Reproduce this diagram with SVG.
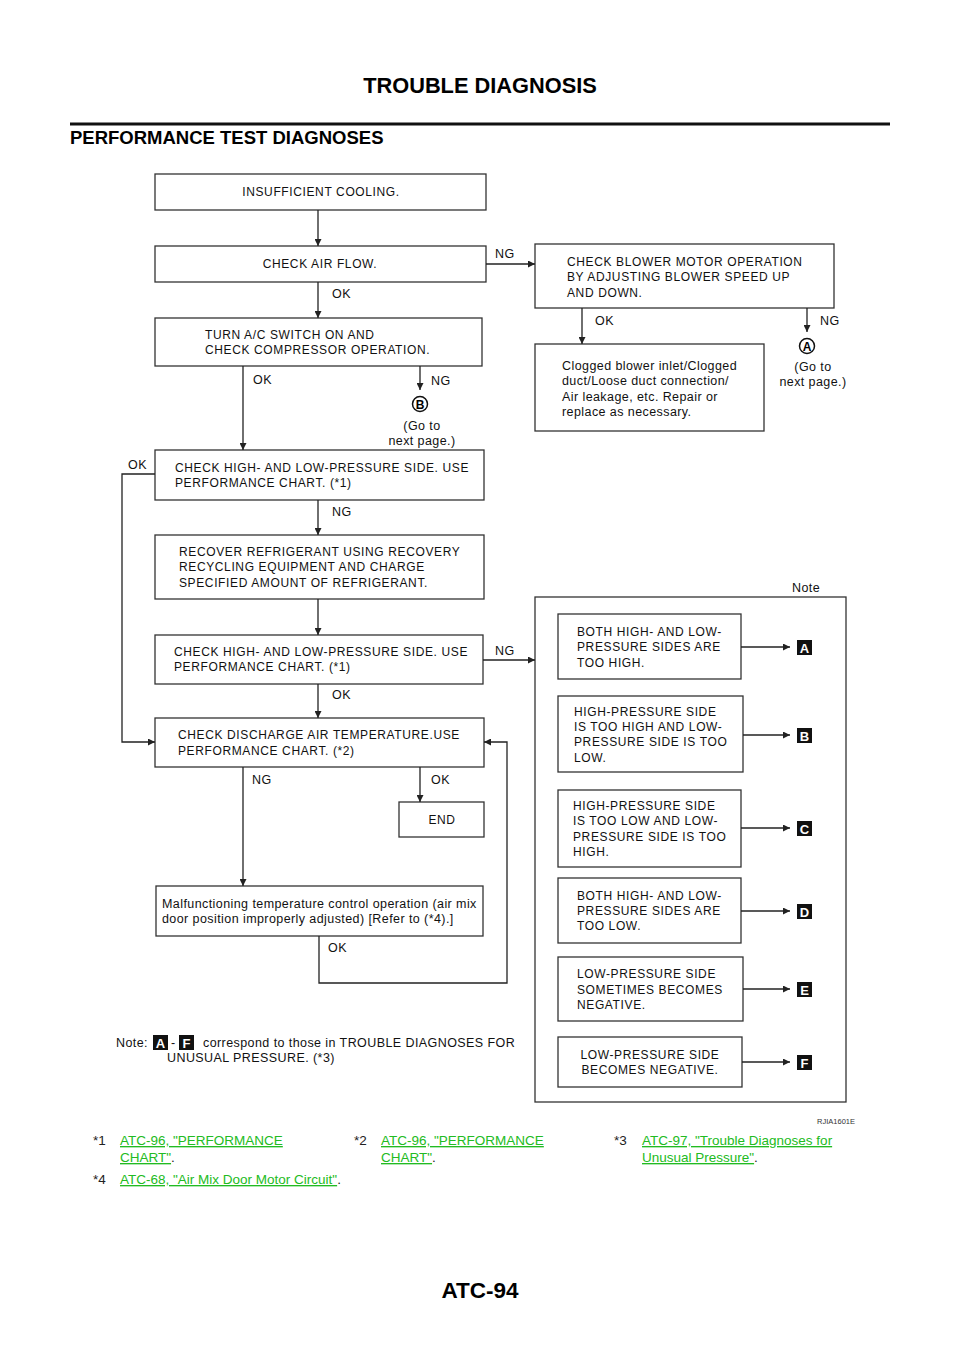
<svg xmlns="http://www.w3.org/2000/svg" width="960" height="1358" viewBox="0 0 960 1358">
<style>
.bx{fill:#fff;stroke:#333;stroke-width:1.3}
.t{font-family:"Liberation Sans",Arial,sans-serif;font-size:12px;fill:#111;letter-spacing:0.62px}
.l{font-family:"Liberation Sans",Arial,sans-serif;font-size:12.5px;fill:#111;letter-spacing:0.42px}
.c{stroke:#222;stroke-width:1.3;fill:none}
.bd{fill:#111}
.bt{font-family:"Liberation Sans",Arial,sans-serif;font-size:13px;font-weight:bold;fill:#fff;text-anchor:middle}
.fn{font-family:"Liberation Sans",Arial,sans-serif;font-size:13.5px;fill:#222;letter-spacing:0px}
.lk{font-family:"Liberation Sans",Arial,sans-serif;font-size:13.5px;fill:#22bb22;text-decoration:underline;letter-spacing:0px}
</style>
<defs>
<marker id="ah" viewBox="0 0 10 10" refX="10" refY="5" markerWidth="7" markerHeight="7" markerUnits="userSpaceOnUse" orient="auto"><path d="M0,0 L10,5 L0,10 z" fill="#222"/></marker>
</defs>
<text x="480" y="93" text-anchor="middle" style="font-family:'Liberation Sans',Arial,sans-serif;font-size:21.8px;font-weight:bold">TROUBLE DIAGNOSIS</text>
<rect x="70" y="122.5" width="820" height="3" fill="#111"/>
<text x="70" y="144" style="font-family:'Liberation Sans',Arial,sans-serif;font-size:18.5px;font-weight:bold">PERFORMANCE TEST DIAGNOSES</text>

<g id="goA">
<circle cx="807" cy="346" r="7.5" fill="#fff" stroke="#111" stroke-width="1.5"/>
<text x="807" y="350.5" text-anchor="middle" style="font-family:'Liberation Sans',Arial,sans-serif;font-size:12px;font-weight:bold">A</text>
<text class="l" x="813" y="371" text-anchor="middle">(Go to</text>
<text class="l" x="813" y="386" text-anchor="middle">next page.)</text>
</g>
<g id="goB">
<circle cx="420" cy="404" r="7.5" fill="#fff" stroke="#111" stroke-width="1.5"/>
<text x="420" y="408.5" text-anchor="middle" style="font-family:'Liberation Sans',Arial,sans-serif;font-size:12px;font-weight:bold">B</text>
<text class="l" x="422" y="430" text-anchor="middle">(Go to</text>
<text class="l" x="422" y="445" text-anchor="middle">next page.)</text>
</g>

<g id="n1"><rect class="bx" x="155" y="174" width="331" height="36"/><text class="t" x="321" y="196" text-anchor="middle">INSUFFICIENT COOLING.</text></g>
<g id="n2"><rect class="bx" x="155" y="246" width="331" height="36"/><text class="t" x="320" y="268" text-anchor="middle">CHECK AIR FLOW.</text></g>
<g id="n3"><rect class="bx" x="155" y="318" width="327" height="48"/><text class="t" x="205" y="339">TURN A/C SWITCH ON AND</text><text class="t" x="205" y="354">CHECK COMPRESSOR OPERATION.</text></g>
<g id="n4"><rect class="bx" x="535" y="244" width="299" height="64"/><text class="t" x="567" y="266">CHECK BLOWER MOTOR OPERATION</text><text class="t" x="567" y="281">BY ADJUSTING BLOWER SPEED UP</text><text class="t" x="567" y="297">AND DOWN.</text></g>
<g id="n5"><rect class="bx" x="535" y="344" width="229" height="87"/><text class="l" x="562" y="370">Clogged blower inlet/Clogged</text><text class="l" x="562" y="385">duct/Loose duct connection/</text><text class="l" x="562" y="401">Air leakage, etc. Repair or</text><text class="l" x="562" y="416">replace as necessary.</text></g>
<g id="n6"><rect class="bx" x="155" y="450" width="329" height="50"/><text class="t" x="175" y="472">CHECK HIGH- AND LOW-PRESSURE SIDE. USE</text><text class="t" x="175" y="487">PERFORMANCE CHART. (*1)</text></g>
<g id="n7"><rect class="bx" x="155" y="535" width="329" height="64"/><text class="t" x="179" y="556">RECOVER REFRIGERANT USING RECOVERY</text><text class="t" x="179" y="571">RECYCLING EQUIPMENT AND CHARGE</text><text class="t" x="179" y="587">SPECIFIED AMOUNT OF REFRIGERANT.</text></g>
<g id="n8"><rect class="bx" x="155" y="635" width="328" height="49"/><text class="t" x="174" y="656">CHECK HIGH- AND LOW-PRESSURE SIDE. USE</text><text class="t" x="174" y="671">PERFORMANCE CHART. (*1)</text></g>
<g id="n9"><rect class="bx" x="155" y="718" width="329" height="49"/><text class="t" x="178" y="739">CHECK DISCHARGE AIR TEMPERATURE.USE</text><text class="t" x="178" y="755">PERFORMANCE CHART. (*2)</text></g>
<g id="n10"><rect class="bx" x="399" y="802" width="85" height="35"/><text class="t" x="442" y="824" text-anchor="middle">END</text></g>
<g id="n11"><rect class="bx" x="156" y="886" width="327" height="50"/><text class="l" x="162" y="908">Malfunctioning temperature control operation (air mix</text><text class="l" x="162" y="923">door position improperly adjusted) [Refer to (*4).]</text></g>

<g id="note">
<text class="l" x="792" y="592">Note</text>
<rect class="bx" x="535" y="597" width="311" height="505"/>
<g id="pA"><rect class="bx" x="558" y="614" width="183" height="65"/><text class="t" x="577" y="636">BOTH HIGH- AND LOW-</text><text class="t" x="577" y="651">PRESSURE SIDES ARE</text><text class="t" x="577" y="667">TOO HIGH.</text></g>
<g id="pB"><rect class="bx" x="558" y="696" width="185" height="76"/><text class="t" x="574" y="716">HIGH-PRESSURE SIDE</text><text class="t" x="574" y="731">IS TOO HIGH AND LOW-</text><text class="t" x="574" y="746">PRESSURE SIDE IS TOO</text><text class="t" x="574" y="762">LOW.</text></g>
<g id="pC"><rect class="bx" x="558" y="790" width="183" height="77"/><text class="t" x="573" y="810">HIGH-PRESSURE SIDE</text><text class="t" x="573" y="825">IS TOO LOW AND LOW-</text><text class="t" x="573" y="841">PRESSURE SIDE IS TOO</text><text class="t" x="573" y="856">HIGH.</text></g>
<g id="pD"><rect class="bx" x="558" y="878" width="183" height="65"/><text class="t" x="577" y="900">BOTH HIGH- AND LOW-</text><text class="t" x="577" y="915">PRESSURE SIDES ARE</text><text class="t" x="577" y="930">TOO LOW.</text></g>
<g id="pE"><rect class="bx" x="558" y="957" width="185" height="64"/><text class="t" x="577" y="978">LOW-PRESSURE SIDE</text><text class="t" x="577" y="994">SOMETIMES BECOMES</text><text class="t" x="577" y="1009">NEGATIVE.</text></g>
<g id="pF"><rect class="bx" x="558" y="1037" width="184" height="50"/><text class="t" x="650" y="1059" text-anchor="middle">LOW-PRESSURE SIDE</text><text class="t" x="650" y="1074" text-anchor="middle">BECOMES NEGATIVE.</text></g>
<g id="badges">
<rect class="bd" x="797" y="640" width="15" height="15"/><text class="bt" x="804.5" y="652.5">A</text>
<rect class="bd" x="797" y="728" width="15" height="15"/><text class="bt" x="804.5" y="740.5">B</text>
<rect class="bd" x="797" y="821" width="15" height="15"/><text class="bt" x="804.5" y="833.5">C</text>
<rect class="bd" x="797" y="904" width="15" height="15"/><text class="bt" x="804.5" y="916.5">D</text>
<rect class="bd" x="797" y="982" width="15" height="15"/><text class="bt" x="804.5" y="994.5">E</text>
<rect class="bd" x="797" y="1055" width="15" height="15"/><text class="bt" x="804.5" y="1067.5">F</text>
</g>
</g>

<g id="connectors">
<path class="c" d="M318,210 V246" marker-end="url(#ah)"/>
<path class="c" d="M486,264 H535" marker-end="url(#ah)"/>
<path class="c" d="M318,282 V318" marker-end="url(#ah)"/>
<path class="c" d="M582,308 V344" marker-end="url(#ah)"/>
<path class="c" d="M807,308 V332" marker-end="url(#ah)"/>
<path class="c" d="M243,366 V450" marker-end="url(#ah)"/>
<path class="c" d="M420,366 V390" marker-end="url(#ah)"/>
<path class="c" d="M155,474 H122 V742 H155" marker-end="url(#ah)"/>
<path class="c" d="M318,500 V535" marker-end="url(#ah)"/>
<path class="c" d="M318,599 V635" marker-end="url(#ah)"/>
<path class="c" d="M483,660 H535" marker-end="url(#ah)"/>
<path class="c" d="M318,684 V718" marker-end="url(#ah)"/>
<path class="c" d="M243,767 V886" marker-end="url(#ah)"/>
<path class="c" d="M420,767 V802" marker-end="url(#ah)"/>
<path class="c" d="M319,936 V983 H507 V742 H484" marker-end="url(#ah)"/>
<path class="c" d="M741,647 H790" marker-end="url(#ah)"/>
<path class="c" d="M743,735 H790" marker-end="url(#ah)"/>
<path class="c" d="M741,828 H790" marker-end="url(#ah)"/>
<path class="c" d="M741,911 H790" marker-end="url(#ah)"/>
<path class="c" d="M743,989 H790" marker-end="url(#ah)"/>
<path class="c" d="M742,1062 H790" marker-end="url(#ah)"/>
<text class="l" x="495" y="258">NG</text>
<text class="l" x="332" y="298">OK</text>
<text class="l" x="595" y="325">OK</text>
<text class="l" x="820" y="325">NG</text>
<text class="l" x="253" y="384">OK</text>
<text class="l" x="431" y="385">NG</text>
<text class="l" x="128" y="469">OK</text>
<text class="l" x="332" y="516">NG</text>
<text class="l" x="495" y="655">NG</text>
<text class="l" x="332" y="699">OK</text>
<text class="l" x="252" y="784">NG</text>
<text class="l" x="431" y="784">OK</text>
<text class="l" x="328" y="952">OK</text>
</g>

<g id="notetext">
<text class="l" x="116" y="1047">Note:</text>
<rect class="bd" x="153" y="1035" width="15" height="15"/><text class="bt" x="160.5" y="1047.5">A</text>
<text class="l" x="171" y="1047">-</text>
<rect class="bd" x="179" y="1035" width="15" height="15"/><text class="bt" x="186.5" y="1047.5">F</text>
<text class="l" x="203" y="1047">correspond to those in TROUBLE DIAGNOSES FOR</text>
<text class="l" x="167" y="1062">UNUSUAL PRESSURE. (*3)</text>
</g>
<text x="855" y="1124" text-anchor="end" style="font-family:'Liberation Sans',Arial,sans-serif;font-size:7.5px;fill:#333">RJIA1601E</text>

<g id="footnotes">
<text class="fn" x="93" y="1145">*1</text><text class="lk" x="120" y="1145">ATC-96, "PERFORMANCE </text><text class="fn" x="120" y="1162"><tspan class="lk">CHART"</tspan>.</text>
<text class="fn" x="354" y="1145">*2</text><text class="lk" x="381" y="1145">ATC-96, "PERFORMANCE </text><text class="fn" x="381" y="1162"><tspan class="lk">CHART"</tspan>.</text>
<text class="fn" x="614" y="1145">*3</text><text class="lk" x="642" y="1145">ATC-97, "Trouble Diagnoses for </text><text class="fn" x="642" y="1162"><tspan class="lk">Unusual Pressure"</tspan>.</text>
<text class="fn" x="93" y="1184">*4</text><text class="fn" x="120" y="1184"><tspan class="lk">ATC-68, "Air Mix Door Motor Circuit"</tspan>.</text>
</g>
<text x="480" y="1298" text-anchor="middle" style="font-family:'Liberation Sans',Arial,sans-serif;font-size:22.5px;font-weight:bold">ATC-94</text>
</svg>
